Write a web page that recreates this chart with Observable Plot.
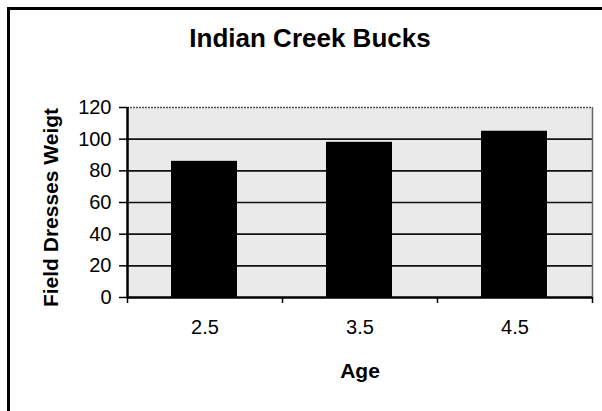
<!DOCTYPE html>
<html>
<head>
<meta charset="utf-8">
<script src="https://cdn.jsdelivr.net/npm/d3@7"></script>
<script src="https://cdn.jsdelivr.net/npm/@observablehq/plot@0.6"></script>
<style>
  html, body { margin: 0; padding: 0; background: #fff; }
  #wrap { position: relative; width: 602px; height: 411px; overflow: hidden; font-family: "Liberation Sans", Arial, sans-serif; }
  #frame { position: absolute; left: 7px; top: 7px; width: 640px; height: 460px; border-left: 3px solid #000; border-top: 3px solid #000; box-sizing: border-box; }
  #title { position: absolute; left: 10px; top: 25px; width: 600px; text-align: center; font-size: 26px; line-height: 26px; font-weight: bold; color: #000; }
  #chart { position: absolute; left: 0; top: 0; }
</style>
</head>
<body>
<div id="wrap">
  <div id="frame"></div>
  <div id="title">Indian Creek Bucks</div>
  <div id="chart"></div>
</div>
<script>
const ages = [2.5, 3.5, 4.5];
const weights = [86, 98, 105];
const yTicks = [0, 20, 40, 60, 80, 100, 120];
const gridValues = [20, 40, 60, 80, 100];
const ageBounds = [2, 3, 4, 5];
const xLabel = "Age";
const yLabel = "Field Dresses Weigt";

const data = ages.map((a, i) => ({age: a, weight: weights[i]}));

const chart = Plot.plot({
  width: 602,
  height: 411,
  marginLeft: 127,
  marginRight: 10,
  marginTop: 107,
  marginBottom: 114,
  style: {fontFamily: "'Liberation Sans', Arial, sans-serif", background: "transparent", color: "#000"},
  x: {domain: [2, 5]},
  y: {domain: [0, 120]},
  marks: [
    Plot.frame({fill: "#eaeaea", stroke: null}),
    Plot.ruleY(gridValues, {stroke: "#111", strokeWidth: 1.6}),
    Plot.ruleY([120], {stroke: "#555", strokeWidth: 1.5, strokeDasharray: "2,1"}),
    Plot.ruleX([5], {stroke: "#666", strokeWidth: 1.5}),
    Plot.rectY(data, {x: "age", y: "weight", interval: 1, insetLeft: 44, insetRight: 45, fill: "#000"}),
    Plot.axisY({ticks: yTicks, tickSize: 8, tickPadding: 8, fontSize: 20, strokeWidth: 1.5,
      label: yLabel, labelAnchor: "center", labelArrow: "none", labelOffset: 84}),
    Plot.axisX({ticks: ageBounds, tickSize: 6, tickFormat: () => "", label: null, strokeWidth: 1.5}),
    Plot.axisX({ticks: ages, tickSize: 0, tickPadding: 22, fontSize: 20,
      label: xLabel, labelAnchor: "center", labelArrow: "none", labelOffset: 80}),
    Plot.ruleX([2], {stroke: "#000", strokeWidth: 2.5}),
    Plot.ruleY([0], {stroke: "#000", strokeWidth: 2.5})
  ]
});
document.getElementById("chart").appendChild(chart);
// bold axis titles
chart.querySelectorAll("g[aria-label='y-axis label'] text, g[aria-label='x-axis label'] text").forEach(t => {
  t.setAttribute("font-weight", "bold");
  t.style.fontSize = "21px";
});
chart.querySelectorAll("g[aria-label='y-axis label'] text").forEach(t => t.setAttribute("dx", "-5"));
</script>
</body>
</html>
